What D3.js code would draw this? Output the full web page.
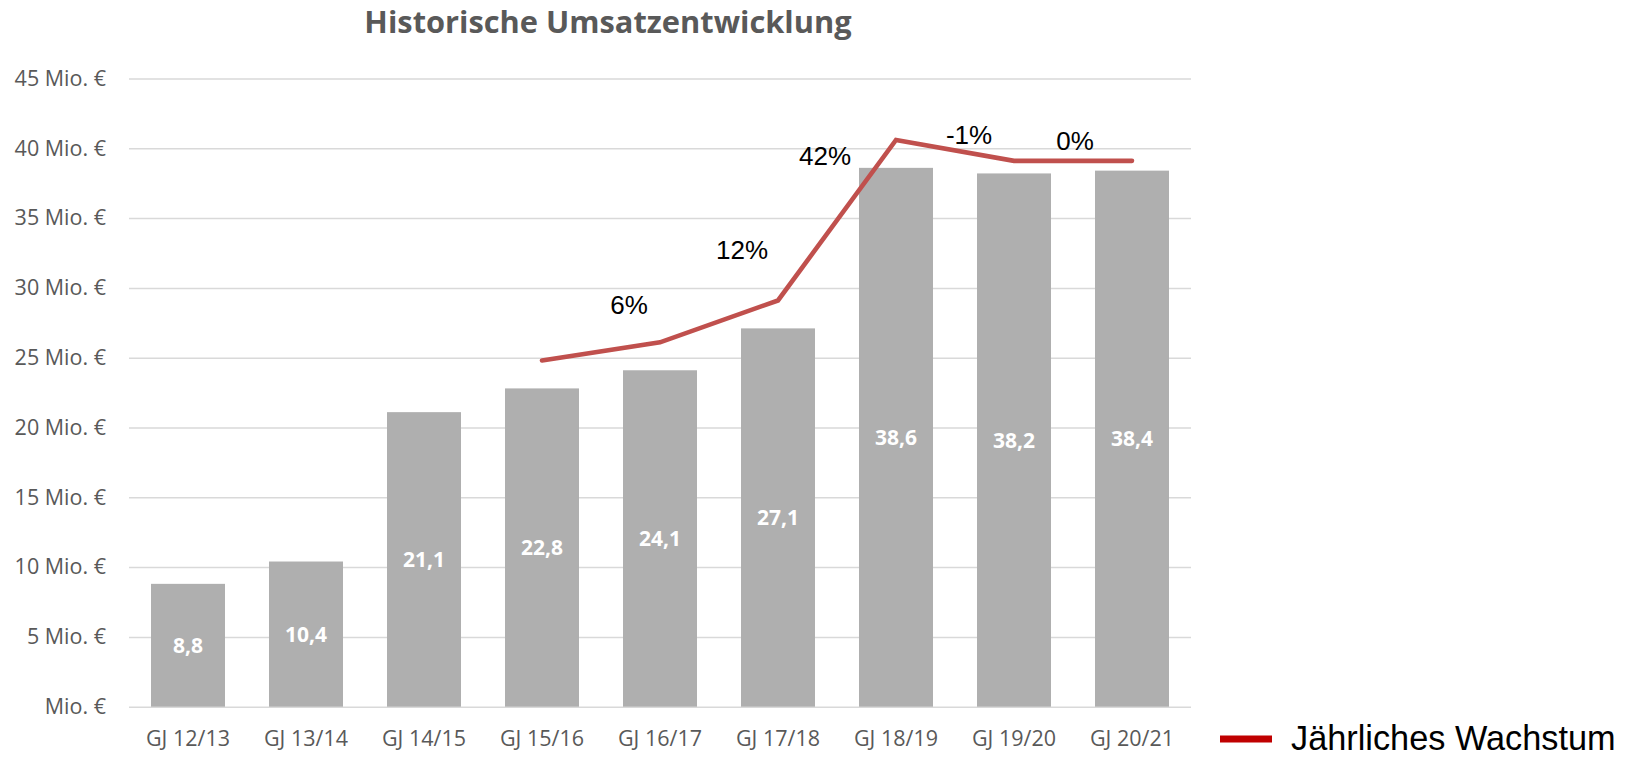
<!DOCTYPE html>
<html>
<head>
<meta charset="utf-8">
<script src="https://cdn.jsdelivr.net/npm/d3@7"></script>
<style>
  body { margin: 0; background: #fff; }
</style>
</head>
<body>
<main></main>
<script>
// chart data
const years = ['GJ 12/13', 'GJ 13/14', 'GJ 14/15', 'GJ 15/16', 'GJ 16/17', 'GJ 17/18', 'GJ 18/19', 'GJ 19/20', 'GJ 20/21'];
const revenue = [8.8, 10.4, 21.1, 22.8, 24.1, 27.1, 38.6, 38.2, 38.4];
const revenueLabels = ['8,8', '10,4', '21,1', '22,8', '24,1', '27,1', '38,6', '38,2', '38,4'];
const growthYears = ['GJ 15/16', 'GJ 16/17', 'GJ 17/18', 'GJ 18/19', 'GJ 19/20', 'GJ 20/21'];
const growthLine = [24.8, 26.1, 29.1, 40.6, 39.1, 39.1];
const growthLabels = ['', '6%', '12%', '42%', '-1%', '0%'];
const yTicks = [0, 5, 10, 15, 20, 25, 30, 35, 40, 45];

// dimensions
const width = 1638;
const height = 757;
const plotLeft = 129;
const plotRight = 1191;
const plotTop = 78.5;
const plotBottom = 706.7;

const barColor = '#afafaf';
const lineColor = '#c0504d';
const legendColor = '#c00000';
const textGrey = '#595959';

// label nudges (px) relative to each line point, like the hand-placed labels in the original
const labelNudge = [[0, 0], [-31, -38], [-36, -51], [-71, 16], [-45, -26], [-57, -20]];

const svg = d3.select('main')
  .append('svg')
  .attr('width', width)
  .attr('height', height);

const xScale = d3.scaleBand()
  .domain(years)
  .range([plotLeft, plotRight])
  .paddingInner(0.373)
  .paddingOuter(0.1865);

const yScale = d3.scaleLinear()
  .domain([0, 45])
  .range([plotBottom, plotTop]);

// title
svg.append('text')
  .text('Historische Umsatzentwicklung')
  .attr('x', 608)
  .attr('y', 33)
  .attr('text-anchor', 'middle')
  .attr('font-family', '"Open Sans", sans-serif')
  .attr('font-weight', 'bold')
  .attr('font-size', 30.8)
  .attr('fill', textGrey);

// gridlines + y labels
const yAxis = d3.axisLeft(yScale)
  .tickValues(yTicks)
  .tickSize(-(plotRight - plotLeft))
  .tickPadding(23)
  .tickFormat(d => d === 0 ? 'Mio. €' : `${d} Mio. €`);

const yAxisG = svg.append('g')
  .attr('transform', `translate(${plotLeft}, 0)`)
  .call(yAxis);

yAxisG.select('.domain').remove();
yAxisG.selectAll('line')
  .attr('stroke', '#d9d9d9')
  .attr('stroke-width', 1.5);
yAxisG.selectAll('text')
  .attr('font-family', '"Open Sans", sans-serif')
  .attr('font-size', 21.5)
  .attr('fill', textGrey);

// x labels
const xAxis = d3.axisBottom(xScale)
  .tickSize(0)
  .tickPadding(24);

const xAxisG = svg.append('g')
  .attr('transform', `translate(0, ${plotBottom})`)
  .call(xAxis);

xAxisG.select('.domain').remove();
xAxisG.selectAll('text')
  .attr('font-family', '"Open Sans", sans-serif')
  .attr('font-size', 21.5)
  .attr('fill', textGrey);

// bars
svg.selectAll('rect.bar')
  .data(revenue)
  .enter()
  .append('rect')
  .attr('class', 'bar')
  .attr('x', (d, i) => xScale(years[i]))
  .attr('y', d => yScale(d))
  .attr('width', xScale.bandwidth())
  .attr('height', d => plotBottom - yScale(d))
  .attr('fill', barColor);

// bar value labels, centred in each bar
svg.selectAll('text.barLabel')
  .data(revenue)
  .enter()
  .append('text')
  .attr('class', 'barLabel')
  .text((d, i) => revenueLabels[i])
  .attr('x', (d, i) => xScale(years[i]) + xScale.bandwidth() / 2)
  .attr('y', d => (yScale(d) + plotBottom) / 2)
  .attr('dy', '0.36em')
  .attr('text-anchor', 'middle')
  .attr('font-family', '"Open Sans", sans-serif')
  .attr('font-weight', 'bold')
  .attr('font-size', 21)
  .attr('fill', '#fff');

// growth line
const line = d3.line()
  .x((d, i) => xScale(growthYears[i]) + xScale.bandwidth() / 2)
  .y(d => yScale(d));

svg.append('path')
  .datum(growthLine)
  .attr('d', line)
  .attr('fill', 'none')
  .attr('stroke', lineColor)
  .attr('stroke-width', 4.6)
  .attr('stroke-linecap', 'round')
  .attr('stroke-linejoin', 'miter');

svg.selectAll('text.growthLabel')
  .data(growthLine)
  .enter()
  .append('text')
  .attr('class', 'growthLabel')
  .text((d, i) => growthLabels[i])
  .attr('x', (d, i) => xScale(growthYears[i]) + xScale.bandwidth() / 2 + labelNudge[i][0])
  .attr('y', (d, i) => yScale(d) + labelNudge[i][1])
  .attr('dy', '0.36em')
  .attr('text-anchor', 'middle')
  .attr('font-family', '"Liberation Sans", Arial, sans-serif')
  .attr('font-size', 26)
  .attr('fill', '#000');

// legend
svg.append('rect')
  .attr('x', 1220)
  .attr('y', 735.5)
  .attr('width', 52)
  .attr('height', 7)
  .attr('fill', legendColor);

svg.append('text')
  .text('Jährliches Wachstum')
  .attr('x', 1291)
  .attr('y', 750)
  .attr('font-family', '"Liberation Sans", Arial, sans-serif')
  .attr('font-size', 34.3)
  .attr('fill', '#000');
</script>
</body>
</html>
